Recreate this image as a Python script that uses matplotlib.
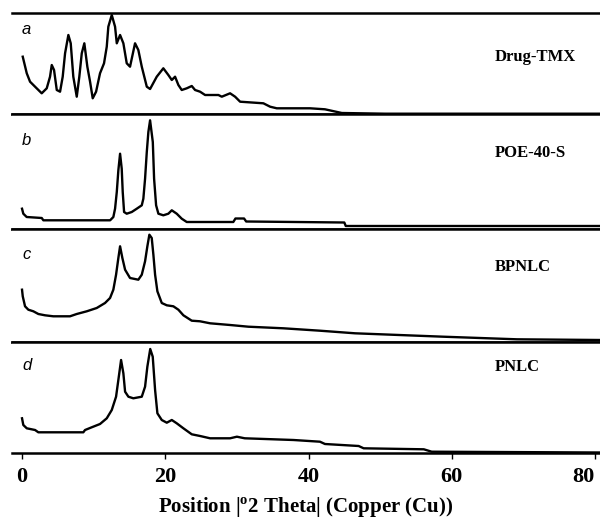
import matplotlib
matplotlib.use('Agg')
import matplotlib.pyplot as plt
import matplotlib.transforms as mtransforms
import numpy as np

plt.rcParams['mathtext.fontset'] = 'custom'
plt.rcParams['mathtext.rm'] = 'Liberation Serif'
plt.rcParams['mathtext.bf'] = 'Liberation Serif:bold'

# XRD patterns (2theta in degrees, intensity in arbitrary units)
tmx_x = [0.1, 0.66, 1.12, 1.82, 2.75, 3.45, 3.91, 4.15, 4.47, 4.85, 5.31, 5.68, 6.01, 6.47, 6.8,
         7.16, 7.64, 8.0, 8.34, 8.7, 9.12, 9.5, 9.87, 10.34, 10.89, 11.45, 11.83, 12.05, 12.53,
         12.99, 13.23, 13.69, 14.15, 14.62, 15.08, 15.78, 16.24, 16.72, 17.42, 17.88, 18.81, 19.73,
         20.43, 20.91, 21.37, 21.83, 22.3, 23.0, 23.7, 24.16, 24.86, 25.56, 27.42, 27.89, 29.05,
         29.75, 30.45, 33.7, 34.64, 35.57, 40.22, 42.3, 44.65, 50.7, 80.7]
tmx_y = [57.3, 40.7, 32.3, 27.3, 20.7, 25.7, 37.3, 49, 44, 24, 22.3, 37.3, 60.7, 79, 70.7,
         37.3, 17.3, 37.3, 60.7, 70.7, 47.3, 32.3, 15.7, 22.3, 40.7, 50.7, 67.3, 87.3, 99,
         87.3, 70.7, 79, 70.7, 50.7, 47.3, 70.7, 64, 47.3, 27.3, 25, 37.3, 45.7,
         39, 34, 37.3, 29, 24, 25.7, 28, 24, 22.3, 19, 19, 17.3, 20.7,
         17.3, 12.3, 10.7, 7.3, 5.7, 5.7, 4.7, 1.0, 0.3, 0.3]

poe_x = [0.0, 0.18, 0.65, 2.75, 2.98, 12.3, 12.75, 12.99, 13.23, 13.45, 13.69, 13.92, 14.06,
         14.25, 14.62, 15.32, 16.02, 16.72, 16.94, 17.18, 17.42, 17.64, 17.88, 18.26, 18.44,
         18.72, 19.04, 19.73, 20.43, 20.91, 21.6, 22.3, 23.0, 29.5, 29.8, 31.0, 31.3, 45.0,
         45.2, 80.7]
poe_y = [20.3, 15.3, 12, 11, 8.7, 8.7, 12, 20.3, 37, 58.7, 75.3, 60.3, 37,
         17, 15.3, 17, 20.3, 23.7, 30.3, 50.3, 77, 97, 108.7, 87, 50.3,
         23.7, 15.3, 13.7, 15.3, 18.7, 15.3, 10.3, 7, 7, 10.5, 10.5, 7.5, 6.5,
         3, 3]

bpnlc_x = [0.0, 0.1, 0.42, 0.88, 1.58, 2.28, 3.21, 4.37, 6.7, 7.64, 9.04, 10.43, 11.59, 12.29,
           12.75, 13.13, 13.45, 13.69, 14.01, 14.39, 15.08, 16.24, 16.72, 17.18, 17.5, 17.78,
           18.11, 18.34, 18.58, 18.9, 19.51, 20.21, 21.13, 21.83, 22.53, 23.7, 24.86, 26.26,
           29.05, 31.6, 36.5, 41.6, 46.5, 58.8, 69.1, 80.7]
bpnlc_y = [52.3, 45.7, 35.7, 32.3, 30.7, 28, 26.7, 25.7, 25.7, 28, 30.7, 34, 39, 44,
           52.3, 67.3, 84, 95.7, 84, 72.3, 64, 62.3, 67.3, 80.7, 95.7, 107.3,
           104, 87.3, 67.3, 50.7, 39, 36.7, 35.7, 32.3, 26.7, 21.3, 20.7, 18.7,
           17, 15.3, 13.7, 11.3, 8.7, 5.3, 2.7, 2]

pnlc_x = [0.0, 0.18, 0.66, 1.82, 2.28, 8.56, 8.8, 9.73, 10.89, 11.83, 12.53, 13.13, 13.45, 13.83,
          14.15, 14.39, 14.85, 15.54, 16.72, 17.18, 17.5, 17.9, 18.25, 18.58, 18.9, 19.51,
          20.21, 20.91, 21.6, 22.53, 23.7, 24.86, 26.26, 29.05, 30.0, 31.1, 37.9, 41.6, 42.3,
          47.0, 47.7, 56.1, 57.2, 80.7]
pnlc_y = [34.7, 28, 24.7, 23, 20.7, 20.7, 23, 25.7, 29, 34.7, 43, 56.3, 73, 93,
          79.7, 61.3, 56.3, 54.7, 56.3, 66.3, 86.3, 104, 96.3, 63, 39.7, 33,
          30.3, 33, 29.7, 24.7, 18.7, 17, 14.7, 14.7, 16.3, 14.7, 13, 11.3, 9,
          7, 4.7, 3.7, 1.3, 0.5]

series_x = [tmx_x, poe_x, bpnlc_x, pnlc_x]
series_y = [tmx_y, poe_y, bpnlc_y, pnlc_y]
panel_letters = ['a', 'b', 'c', 'd']
sample_names = ['Drug-TMX', 'POE-40-S', 'BPNLC', 'PNLC']
panel_tops = [101, 115, 113, 111]
letter_pos = [0.84, 0.77, 0.77, 0.79]
name_pos = [0.56, 0.66, 0.66, 0.775]
xticks = [0, 20, 40, 60, 80]

fig = plt.figure(figsize=(6.0, 5.19), dpi=100)
gs = fig.add_gridspec(4, 1, height_ratios=panel_tops, hspace=0,
                      left=0.02, right=1.0, top=1 - 13 / 519, bottom=1 - 453 / 519)

for i in range(4):
    ax = fig.add_subplot(gs[i])
    ax.plot(series_x[i], series_y[i], color='black', lw=1.7, clip_on=False)
    ax.set_xlim(-1.4, 80.7)
    ax.set_ylim(0, panel_tops[i])
    for s in ['left', 'right']:
        ax.spines[s].set_visible(False)
    for s in ['top', 'bottom']:
        ax.spines[s].set_linewidth(1.8)
    ax.set_yticks([])
    ax.text(0.017, letter_pos[i], panel_letters[i], transform=ax.transAxes,
            fontsize=12, style='italic', family='Liberation Sans', va='center', ha='left')
    ax.text(0.821, name_pos[i], sample_names[i], transform=ax.transAxes,
            fontsize=12, fontweight='bold', family='Liberation Serif', va='center', ha='left')
    if i < 3:
        ax.set_xticks([])
    else:
        ax.set_xticks(xticks)
        ax.set_xticklabels([str(t) for t in xticks], fontsize=16, fontweight='bold',
                           family='Liberation Serif')
        ax.tick_params(axis='x', direction='out', length=4, width=1, pad=6)
        # last label sits left of its tick, as in the original
        last = ax.get_xticklabels()[-1]
        last.set_transform(last.get_transform() +
                           mtransforms.ScaledTranslation(-12 / 100, 0, fig.dpi_scale_trans))
        ax.set_xlabel(r'Position |$^{\mathbf{o}}$2 Theta| (Copper (Cu))', fontsize=15,
                      fontweight='bold', family='Liberation Serif', labelpad=6)

fig.savefig('out.png', dpi=100)
